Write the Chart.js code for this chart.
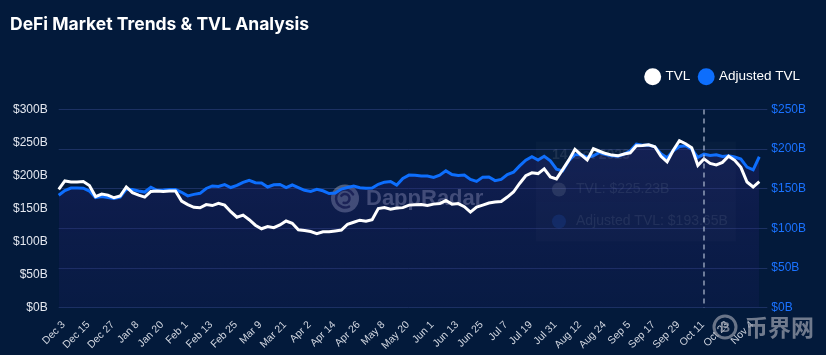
<!DOCTYPE html>
<html><head><meta charset="utf-8">
<script src="https://cdn.jsdelivr.net/npm/chart.js@4.4.1/dist/chart.umd.min.js"></script>
<style>
html,body{margin:0;padding:0;background:#031a3b;width:826px;height:355px;overflow:hidden}
#wrap{position:relative;width:826px;height:355px}
#title{position:absolute;left:10px;top:13px;font:700 17.5px/22px Inter,"Liberation Sans",sans-serif;color:#fff;margin:0;white-space:nowrap}
canvas{position:absolute;left:0;top:0}
</style></head><body>
<div id="wrap"><canvas id="c" width="826" height="355"></canvas><div id="title">DeFi Market Trends &amp; TVL Analysis</div></div>
<script>
const dates = [
 'Dec 3','Dec 6','Dec 9','Dec 12','Dec 15','Dec 18','Dec 21','Dec 24','Dec 27','Dec 30',
 'Jan 2','Jan 5','Jan 8','Jan 11','Jan 14','Jan 17','Jan 20','Jan 23','Jan 26','Jan 29',
 'Feb 1','Feb 4','Feb 7','Feb 10','Feb 13','Feb 16','Feb 19','Feb 22','Feb 25','Feb 28',
 'Mar 3','Mar 6','Mar 9','Mar 12','Mar 15','Mar 18','Mar 21','Mar 24','Mar 27','Mar 30',
 'Apr 2','Apr 5','Apr 8','Apr 11','Apr 14','Apr 17','Apr 20','Apr 23','Apr 26','Apr 29',
 'May 2','May 5','May 8','May 11','May 14','May 17','May 20','May 23','May 26','May 29',
 'Jun 1','Jun 4','Jun 7','Jun 10','Jun 13','Jun 16','Jun 19','Jun 22','Jun 25','Jun 28',
 'Jul 1','Jul 4','Jul 7','Jul 10','Jul 13','Jul 16','Jul 19','Jul 22','Jul 25','Jul 28','Jul 31',
 'Aug 3','Aug 6','Aug 9','Aug 12','Aug 15','Aug 18','Aug 21','Aug 24','Aug 27','Aug 30',
 'Sep 2','Sep 5','Sep 8','Sep 11','Sep 14','Sep 17','Sep 20','Sep 23','Sep 26','Sep 29',
 'Oct 2','Oct 5','Oct 8','Oct 11','Oct 14','Oct 17','Oct 20','Oct 23','Oct 26','Oct 29',
 'Nov 1','Nov 4','Nov 7','Nov 10'
];
const xTickLabels = ['Dec 3','Dec 15','Dec 27','Jan 8','Jan 20','Feb 1','Feb 13','Feb 25','Mar 9','Mar 21',
 'Apr 2','Apr 14','Apr 26','May 8','May 20','Jun 1','Jun 13','Jun 25','Jul 7','Jul 19','Jul 31',
 'Aug 12','Aug 24','Sep 5','Sep 17','Sep 29','Oct 11','Oct 23','Nov 4'];
const tvl = [
 179.2,191.9,190.3,190.3,191.1,185.0,168.3,172.1,170.5,166.4,
 169.0,182.7,174.1,170.5,167.5,175.9,176.6,175.9,176.6,176.6,
 161.4,156.1,152.0,151.2,156.1,154.6,158.0,155.3,145.4,137.0,
 140.1,133.2,124.9,119.5,122.9,121.1,125.3,131.3,127.9,118.0,
 116.8,115.3,112.2,115.0,115.1,116.3,117.5,126.4,129.4,132.5,
 131.0,133.2,150.0,151.5,149.2,150.8,151.5,155.3,155.8,156.2,
 154.6,156.8,157.6,162.2,156.8,157.6,153.0,144.7,152.3,155.3,
 158.4,159.9,160.7,167.5,175.1,188.1,199.8,204.1,203.0,210.1,
 198.0,194.9,208.9,223.4,239.8,231.5,223.8,240.6,236.8,233.3,
 231.0,229.9,232.7,234.5,245.2,245.6,246.7,243.6,229.2,220.8,
 238.3,252.8,248.2,242.1,215.5,225.23,218.5,216.2,220.0,229.2,
 223.1,212.4,190.3,182.7,190.8
];
const adjustedTvl = [
 141.8,147.8,151.0,151.0,150.8,147.2,138.8,140.2,139.0,137.9,
 139.6,149.4,149.0,147.2,145.9,152.0,148.2,148.5,149.2,149.0,
 145.6,141.1,143.0,144.3,150.4,153.6,152.9,155.3,151.6,154.2,
 158.0,160.8,157.7,157.4,152.3,155.1,155.5,151.6,154.8,151.4,
 148.1,146.6,149.4,147.5,144.0,144.7,149.7,151.6,153.4,151.3,
 150.8,151.0,155.7,158.4,159.3,154.8,163.1,167.3,167.1,166.0,
 166.0,164.3,167.1,172.6,168.1,166.9,167.3,161.8,159.3,164.7,
 165.0,160.3,161.8,167.8,170.9,178.9,186.2,190.6,186.2,191.0,
 185.3,174.7,172.6,185.5,192.9,192.9,189.7,191.6,195.8,193.1,
 191.6,191.2,193.7,198.0,206.3,204.9,205.3,203.0,194.2,189.1,
 198.0,203.3,204.3,199.9,189.6,193.65,191.9,192.9,190.7,191.6,
 190.1,187.4,177.3,173.9,190.4
];
const hoverDate = 'Oct 14';
const hoverTitle = '14 Oct 2023';
const seriesNames = ['TVL','Adjusted TVL'];
const fmt = v => '$' + v + 'B';

const legendGap = {id:'legendGap', beforeInit(chart){
  const fit = chart.legend.fit;
  chart.legend.fit = function(){ fit.call(this); this.height += 16; };
}};

const overlay = {id:'overlay',
  beforeDatasetsDraw(chart){
    const c = chart.ctx, a = chart.chartArea;
    c.save();
    const cx = (a.left + a.right)/2 - 64, cy = a.top + 89;
    c.fillStyle = 'rgba(140,150,175,0.55)';
    c.beginPath(); c.arc(cx, cy, 14, 0, Math.PI*2); c.fill();
    c.strokeStyle = 'rgba(18,30,70,0.9)'; c.lineWidth = 2.5; c.lineCap='round';
    c.beginPath(); c.arc(cx, cy, 9, Math.PI*0.35, Math.PI*1.85); c.stroke();
    c.beginPath(); c.arc(cx, cy, 4.5, Math.PI*1.2, Math.PI*2.6); c.stroke();
    c.font = 'bold 22px "Liberation Sans", Arial, sans-serif';
    c.textBaseline = 'middle'; c.textAlign = 'left';
    c.fillStyle = 'rgba(140,150,175,0.55)';
    c.fillText('DappRadar', cx + 21, cy);
    c.restore();
  },
  afterDatasetsDraw(chart){
    const c = chart.ctx, a = chart.chartArea;
    const idx = dates.indexOf(hoverDate);
    const xh = chart.scales.x.getPixelForValue(idx);
    c.save();
    c.fillStyle = 'rgba(255,255,255,0.02)';
    c.fillRect(xh - 168, a.top + 32, 200, 100);
    c.textBaseline = 'middle'; c.textAlign = 'left';
    c.font = 'bold 14px "Liberation Sans", Arial, sans-serif';
    c.fillStyle = 'rgba(255,255,255,0.09)';
    c.fillText(hoverTitle, xh - 152, a.top + 46);
    c.font = '14px "Liberation Sans", Arial, sans-serif';
    c.fillStyle = 'rgba(255,255,255,0.10)';
    c.beginPath(); c.arc(xh - 145, a.top + 80, 7, 0, Math.PI*2); c.fill();
    c.fillStyle = 'rgba(255,255,255,0.08)';
    c.fillText(seriesNames[0] + ': ' + fmt(tvl[idx].toFixed(2)), xh - 128, a.top + 80);
    c.fillStyle = 'rgba(40,110,255,0.14)';
    c.beginPath(); c.arc(xh - 145, a.top + 112, 7, 0, Math.PI*2); c.fill();
    c.fillStyle = 'rgba(255,255,255,0.08)';
    c.fillText(seriesNames[1] + ': ' + fmt(adjustedTvl[idx].toFixed(2)), xh - 128, a.top + 112);
    c.strokeStyle = 'rgba(190,200,220,0.75)'; c.lineWidth = 1.5; c.setLineDash([5,4]);
    c.beginPath(); c.moveTo(xh, a.top); c.lineTo(xh, a.bottom); c.stroke();
    c.restore();
  },
  afterDraw(chart){
    const c = chart.ctx;
    c.save();
    const lx = chart.width - 101, ly = chart.height - 28;
    c.strokeStyle = 'rgba(150,155,170,0.7)'; c.lineWidth = 3;
    c.beginPath(); c.arc(lx, ly, 11, 0, Math.PI*2); c.stroke();
    c.fillStyle = 'rgba(150,155,170,0.75)';
    c.font = 'bold 14px "Liberation Sans", Arial, sans-serif';
    c.textAlign = 'center'; c.textBaseline = 'middle';
    c.fillText('B', lx, ly + 1);
    c.font = 'bold 23px "Noto Sans CJK SC", sans-serif';
    c.textAlign = 'left';
    c.fillText('币界网', lx + 20, ly);
    c.restore();
  }
};

const ctx = document.getElementById('c').getContext('2d');
new Chart(ctx, {
  type:'line',
  data:{
    labels: dates,
    datasets:[
      {label:seriesNames[0], data:tvl, yAxisID:'y', borderColor:'#ffffff', backgroundColor:'#ffffff',
       borderWidth:3, pointRadius:0, tension:0, fill:false},
      {label:seriesNames[1], data:adjustedTvl, yAxisID:'y1', borderColor:'#0d6efd', borderWidth:3, pointRadius:0, tension:0,
       fill:'origin',
       backgroundColor:(context)=>{
         const {chart} = context; const a = chart.chartArea;
         if(!a) return 'rgba(40,35,110,0.3)';
         const g = chart.ctx.createLinearGradient(0, a.top, 0, a.bottom);
         g.addColorStop(0, 'rgba(45,38,125,0.38)');
         g.addColorStop(1, 'rgba(30,32,105,0.2)');
         return g;
       }}
    ]
  },
  options:{
    responsive:false, animation:false, devicePixelRatio:1,
    layout:{padding:{top:60,left:2,right:16,bottom:0}},
    plugins:{
      legend:{position:'top', align:'end',
        labels:{usePointStyle:true, pointStyle:'circle', boxHeight:12, boxWidth:12, padding:10, color:'#ffffff',
          font:{family:'"Liberation Sans", Arial, sans-serif', size:13.5},
          generateLabels(chart){
            const items = Chart.defaults.plugins.legend.labels.generateLabels(chart);
            items.forEach(it=>{ it.fillStyle = it.strokeStyle; it.lineWidth = 0; });
            return items;
          }}},
      tooltip:{enabled:false},
      title:{display:false}
    },
    scales:{
      x:{grid:{display:false, drawTicks:true, tickLength:8}, border:{display:false},
         ticks:{autoSkip:false, maxRotation:45, minRotation:45, color:'#d0d5df', padding:3, labelOffset:5,
           font:{family:'"Liberation Sans", Arial, sans-serif', size:10.5},
           callback(v, i){ const l = dates[i]; return xTickLabels.includes(l) ? l : ''; }}},
      y:{position:'left', min:0, max:300, grid:{display:false, drawTicks:false}, border:{display:false},
         ticks:{stepSize:50, color:'#e3e7ef', padding:11, font:{family:'"Liberation Sans", Arial, sans-serif', size:12}, callback:v=>fmt(v)}},
      y1:{position:'right', min:0, max:250, border:{display:false},
         grid:{color:'#1c3163', lineWidth:1, drawTicks:true, tickLength:8},
         ticks:{stepSize:50, color:'#1a72ff', padding:4, font:{family:'"Liberation Sans", Arial, sans-serif', size:12}, callback:v=>fmt(v)}}
    }
  },
  plugins:[legendGap, overlay]
});
</script>
</body></html>
